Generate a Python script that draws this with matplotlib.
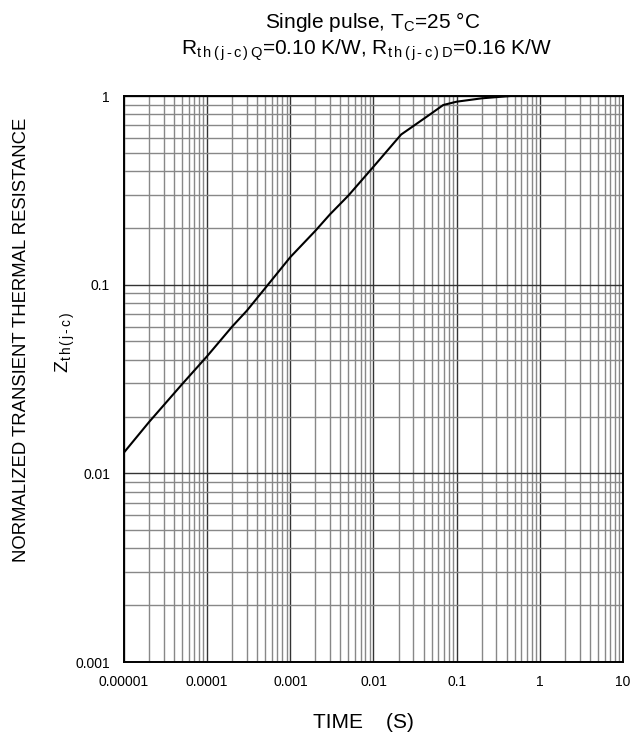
import matplotlib
matplotlib.use('Agg')
import matplotlib.pyplot as plt
import numpy as np
from matplotlib.ticker import FixedLocator, NullFormatter

plt.rcParams['font.family'] = ['Liberation Sans', 'DejaVu Sans']
plt.rcParams['mathtext.fontset'] = 'custom'
plt.rcParams['mathtext.rm'] = 'Liberation Sans'

# curve
time_s = [1e-5, 2e-5, 5e-5, 1e-4, 2e-4, 3e-4, 5e-4, 1e-3, 2e-3, 3e-3, 5e-3,
          1e-2, 2.15e-2, 3e-2, 5e-2, 6.9e-2, 0.1, 0.2, 0.44]
zth = [0.0129, 0.0187, 0.0297, 0.0418, 0.060, 0.0728, 0.096, 0.14, 0.193, 0.236, 0.297,
       0.422, 0.625, 0.692, 0.81, 0.896, 0.933, 0.972, 1.0]

x_ticks = [1e-5, 1e-4, 1e-3, 1e-2, 1e-1, 1, 10]
x_labels = ['0.00001', '0.0001', '0.001', '0.01', '0.1', '1', '10']
y_ticks = [0.001, 0.01, 0.1, 1]
y_labels = ['0.001', '0.01', '0.1', '1']

fig = plt.figure(figsize=(6.4, 7.37), dpi=100)
ax = fig.add_axes([124/640, 1-662/737, (623-124)/640, (662-96)/737])

ax.set_xscale('log')
ax.set_yscale('log')
ax.set_xlim(1e-5, 10)
ax.set_ylim(0.001, 1)

ax.plot(time_s, zth, color='black', lw=1.5, zorder=3)

ax.xaxis.set_major_locator(FixedLocator(x_ticks))
ax.yaxis.set_major_locator(FixedLocator(y_ticks))
ax.set_xticklabels(x_labels)
ax.set_yticklabels(y_labels)
minors_x = [m * 10.0**e for e in range(-5, 1) for m in range(2, 10)]
minors_y = [m * 10.0**e for e in range(-3, 0) for m in range(2, 10)]
ax.xaxis.set_minor_locator(FixedLocator(minors_x))
ax.yaxis.set_minor_locator(FixedLocator(minors_y))
ax.xaxis.set_minor_formatter(NullFormatter())
ax.yaxis.set_minor_formatter(NullFormatter())

ax.grid(True, which='major', color='#333333', lw=1.0)
ax.grid(True, which='minor', color='#888888', lw=1.0)
ax.tick_params(which='both', length=0, labelsize=10, pad=9)
ax.tick_params(axis='y', pad=10)
for s in ax.spines.values():
    s.set_color('black')
    s.set_linewidth(1.4)

hy = '\u2010'
fig.text(373/640, 1-22/737, r'Single pulse, T$_\mathregular{C}$=25 °C',
         ha='center', va='center', fontsize=15)
fig.text(367/640, 1-50/737,
         r'R$_\mathregular{t\,h\,(\,j\,' + hy + r'\,c\,)\,Q}$=0.10 K/W, '
         r'R$_\mathregular{t\,h\,(\,j\,' + hy + r'\,c\,)\,D}$=0.16 K/W',
         ha='center', va='center', fontsize=15)
fig.text(363/640, 1-722/737, 'TIME    (S)', ha='center', va='center', fontsize=15)
fig.text(22/640, 1-340/737, 'NORMALIZED TRANSIENT THERMAL RESISTANCE',
         ha='center', va='center', rotation=90, fontsize=13.3)
fig.text(65/640, 1-342/737,
         r'Z$_\mathregular{t\,h\,(\,j\,' + hy + r'\,c\,)}$',
         ha='center', va='center', rotation=90, fontsize=14)

fig.savefig('out.png', dpi=100)
